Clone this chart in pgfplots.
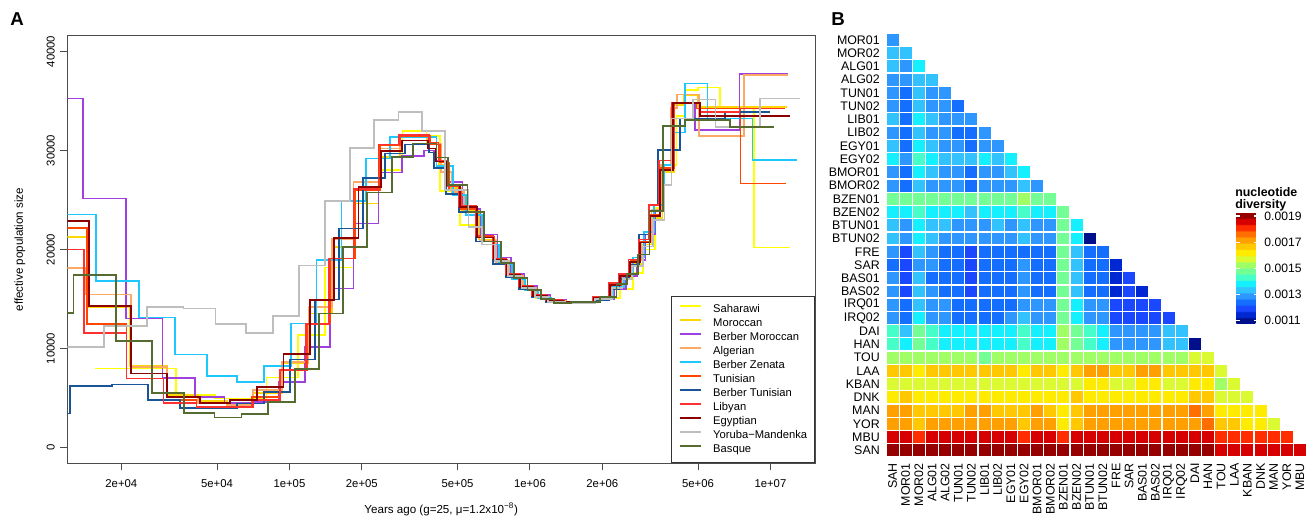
\documentclass[border=0pt]{standalone}
\usepackage{fontspec}
\setmainfont{Liberation Sans}
\usepackage{pgfplots}
\pgfplotsset{compat=1.18}
\usetikzlibrary{calc}

\definecolor{cSAH}{RGB}{255,255,0}
\definecolor{cMOR}{RGB}{255,215,0}
\definecolor{cBMOR}{RGB}{160,64,224}
\definecolor{cALG}{RGB}{250,170,100}
\definecolor{cBZEN}{RGB}{30,200,255}
\definecolor{cTUN}{RGB}{255,69,0}
\definecolor{cBTUN}{RGB}{25,85,150}
\definecolor{cLIB}{RGB}{255,48,48}
\definecolor{cEGY}{RGB}{139,0,0}
\definecolor{cYOR}{RGB}{190,190,190}
\definecolor{cBAS}{RGB}{85,107,47}

% 18 colour steps, each repeated so the map is nearly piecewise constant
\pgfplotsset{colormap={stepjet}{
rgb255=(0,16,140) rgb255=(0,16,140) rgb255=(0,16,140) rgb255=(0,16,140) rgb255=(0,16,140)
rgb255=(0,40,210) rgb255=(0,40,210) rgb255=(0,40,210) rgb255=(0,40,210) rgb255=(0,40,210)
rgb255=(25,72,255) rgb255=(25,72,255) rgb255=(25,72,255) rgb255=(25,72,255) rgb255=(25,72,255)
rgb255=(20,110,255) rgb255=(20,110,255) rgb255=(20,110,255) rgb255=(20,110,255) rgb255=(20,110,255)
rgb255=(45,150,255) rgb255=(45,150,255) rgb255=(45,150,255) rgb255=(45,150,255) rgb255=(45,150,255)
rgb255=(50,195,255) rgb255=(50,195,255) rgb255=(50,195,255) rgb255=(50,195,255) rgb255=(50,195,255)
rgb255=(20,240,255) rgb255=(20,240,255) rgb255=(20,240,255) rgb255=(20,240,255) rgb255=(20,240,255)
rgb255=(70,255,200) rgb255=(70,255,200) rgb255=(70,255,200) rgb255=(70,255,200) rgb255=(70,255,200)
rgb255=(115,255,150) rgb255=(115,255,150) rgb255=(115,255,150) rgb255=(115,255,150) rgb255=(115,255,150)
rgb255=(160,255,100) rgb255=(160,255,100) rgb255=(160,255,100) rgb255=(160,255,100) rgb255=(160,255,100)
rgb255=(220,250,50) rgb255=(220,250,50) rgb255=(220,250,50) rgb255=(220,250,50) rgb255=(220,250,50)
rgb255=(255,235,0) rgb255=(255,235,0) rgb255=(255,235,0) rgb255=(255,235,0) rgb255=(255,235,0)
rgb255=(255,200,0) rgb255=(255,200,0) rgb255=(255,200,0) rgb255=(255,200,0) rgb255=(255,200,0)
rgb255=(255,160,0) rgb255=(255,160,0) rgb255=(255,160,0) rgb255=(255,160,0) rgb255=(255,160,0)
rgb255=(255,110,0) rgb255=(255,110,0) rgb255=(255,110,0) rgb255=(255,110,0) rgb255=(255,110,0)
rgb255=(255,45,0) rgb255=(255,45,0) rgb255=(255,45,0) rgb255=(255,45,0) rgb255=(255,45,0)
rgb255=(215,0,0) rgb255=(215,0,0) rgb255=(215,0,0) rgb255=(215,0,0) rgb255=(215,0,0)
rgb255=(150,0,0) rgb255=(150,0,0) rgb255=(150,0,0) rgb255=(150,0,0) rgb255=(150,0,0)
}}

% pairwise nucleotide diversity (x 1e-4): column, row, value
\pgfplotstableread[row sep=\\]{
c r v\\
0 1 12.9\\
0 2 13.4\\ 1 2 13.4\\
0 3 13.4\\ 1 3 12.9\\ 2 3 13.8\\
0 4 12.9\\ 1 4 12.9\\ 2 4 13.4\\ 3 4 13.4\\
0 5 12.9\\ 1 5 12.4\\ 2 5 13.4\\ 3 5 12.9\\ 4 5 12.9\\
0 6 12.9\\ 1 6 12.4\\ 2 6 13.4\\ 3 6 12.9\\ 4 6 12.9\\ 5 6 12.4\\
0 7 13.4\\ 1 7 12.4\\ 2 7 13.8\\ 3 7 13.4\\ 4 7 12.9\\ 5 7 12.9\\ 6 7 12.9\\
0 8 12.9\\ 1 8 12.4\\ 2 8 13.4\\ 3 8 12.9\\ 4 8 12.9\\ 5 8 12.4\\ 6 8 12.4\\ 7 8 12.9\\
0 9 13.4\\ 1 9 12.4\\ 2 9 13.8\\ 3 9 13.4\\ 4 9 12.9\\ 5 9 12.9\\ 6 9 12.4\\ 7 9 12.9\\ 8 9 12.9\\
0 10 13.8\\ 1 10 12.9\\ 2 10 14.3\\ 3 10 13.8\\ 4 10 13.4\\ 5 10 13.4\\ 6 10 13.4\\ 7 10 13.8\\ 8 10 13.4\\ 9 10 13.8\\
0 11 12.9\\ 1 11 12.4\\ 2 11 13.8\\ 3 11 13.4\\ 4 11 12.9\\ 5 11 12.9\\ 6 11 12.4\\ 7 11 12.9\\ 8 11 12.9\\ 9 11 13.4\\ 10 11 13.8\\
0 12 12.9\\ 1 12 12.4\\ 2 12 13.4\\ 3 12 12.9\\ 4 12 12.9\\ 5 12 12.9\\ 6 12 12.4\\ 7 12 12.9\\ 8 12 12.9\\ 9 12 12.9\\ 10 12 13.4\\ 11 12 12.9\\
0 13 14.8\\ 1 13 14.8\\ 2 13 14.8\\ 3 13 14.8\\ 4 13 14.8\\ 5 13 14.8\\ 6 13 14.8\\ 7 13 14.8\\ 8 13 14.8\\ 9 13 14.8\\ 10 13 15.3\\ 11 13 14.8\\ 12 13 14.8\\
0 14 13.8\\ 1 14 13.8\\ 2 14 14.3\\ 3 14 13.8\\ 4 14 13.8\\ 5 14 13.8\\ 6 14 13.4\\ 7 14 13.8\\ 8 14 13.8\\ 9 14 13.8\\ 10 14 14.3\\ 11 14 13.8\\ 12 14 13.8\\ 13 14 14.8\\
0 15 13.4\\ 1 15 12.9\\ 2 15 13.8\\ 3 15 13.4\\ 4 15 13.4\\ 5 15 12.9\\ 6 15 12.9\\ 7 15 12.9\\ 8 15 13.4\\ 9 15 12.9\\ 10 15 13.4\\ 11 15 12.9\\ 12 15 12.9\\ 13 15 14.8\\ 14 15 13.8\\
0 16 13.4\\ 1 16 12.9\\ 2 16 13.8\\ 3 16 13.4\\ 4 16 12.9\\ 5 16 12.9\\ 6 16 12.9\\ 7 16 12.9\\ 8 16 12.9\\ 9 16 12.9\\ 10 16 13.4\\ 11 16 12.9\\ 12 16 12.9\\ 13 16 14.8\\ 14 16 13.8\\ 15 16 11.0\\
0 17 12.9\\ 1 17 11.9\\ 2 17 13.4\\ 3 17 12.9\\ 4 17 12.4\\ 5 17 12.4\\ 6 17 11.9\\ 7 17 12.4\\ 8 17 12.4\\ 9 17 12.4\\ 10 17 12.4\\ 11 17 12.4\\ 12 17 12.4\\ 13 17 14.8\\ 14 17 13.4\\ 15 17 12.4\\ 16 17 12.4\\
0 18 12.4\\ 1 18 11.9\\ 2 18 12.9\\ 3 18 12.9\\ 4 18 12.4\\ 5 18 12.4\\ 6 18 11.9\\ 7 18 12.4\\ 8 18 12.4\\ 9 18 12.4\\ 10 18 12.9\\ 11 18 12.4\\ 12 18 12.4\\ 13 18 14.8\\ 14 18 13.4\\ 15 18 12.4\\ 16 18 12.4\\ 17 18 11.5\\
0 19 12.9\\ 1 19 11.9\\ 2 19 13.4\\ 3 19 12.4\\ 4 19 12.4\\ 5 19 12.4\\ 6 19 11.9\\ 7 19 12.4\\ 8 19 12.4\\ 9 19 12.4\\ 10 19 12.9\\ 11 19 12.4\\ 12 19 12.4\\ 13 19 14.8\\ 14 19 13.4\\ 15 19 12.4\\ 16 19 12.4\\ 17 19 11.5\\ 18 19 11.9\\
0 20 12.9\\ 1 20 11.9\\ 2 20 13.4\\ 3 20 12.9\\ 4 20 12.4\\ 5 20 12.4\\ 6 20 11.9\\ 7 20 12.4\\ 8 20 12.4\\ 9 20 12.4\\ 10 20 12.9\\ 11 20 12.4\\ 12 20 12.4\\ 13 20 14.8\\ 14 20 13.4\\ 15 20 12.4\\ 16 20 12.4\\ 17 20 11.5\\ 18 20 11.9\\ 19 20 11.5\\
0 21 12.9\\ 1 21 12.4\\ 2 21 13.4\\ 3 21 12.9\\ 4 21 12.9\\ 5 21 12.4\\ 6 21 12.4\\ 7 21 12.4\\ 8 21 12.4\\ 9 21 12.4\\ 10 21 12.9\\ 11 21 12.9\\ 12 21 12.9\\ 13 21 14.8\\ 14 21 13.8\\ 15 21 12.9\\ 16 21 12.9\\ 17 21 11.9\\ 18 21 11.9\\ 19 21 11.9\\ 20 21 11.9\\
0 22 12.9\\ 1 22 12.4\\ 2 22 13.8\\ 3 22 12.9\\ 4 22 12.9\\ 5 22 12.4\\ 6 22 12.4\\ 7 22 12.4\\ 8 22 12.4\\ 9 22 12.9\\ 10 22 13.4\\ 11 22 12.9\\ 12 22 12.9\\ 13 22 14.8\\ 14 22 13.8\\ 15 22 12.9\\ 16 22 12.9\\ 17 22 11.9\\ 18 22 11.9\\ 19 22 11.9\\ 20 22 11.9\\ 21 22 11.9\\
0 23 14.3\\ 1 23 13.4\\ 2 23 14.8\\ 3 23 14.3\\ 4 23 13.8\\ 5 23 13.8\\ 6 23 13.8\\ 7 23 13.8\\ 8 23 13.8\\ 9 23 13.8\\ 10 23 14.3\\ 11 23 13.8\\ 12 23 13.8\\ 13 23 15.3\\ 14 23 14.8\\ 15 23 14.3\\ 16 23 13.8\\ 17 23 12.9\\ 18 23 12.9\\ 19 23 12.9\\ 20 23 12.9\\ 21 23 13.4\\ 22 23 13.4\\
0 24 14.3\\ 1 24 13.8\\ 2 24 14.8\\ 3 24 14.3\\ 4 24 13.8\\ 5 24 13.8\\ 6 24 13.8\\ 7 24 13.8\\ 8 24 13.8\\ 9 24 13.8\\ 10 24 14.3\\ 11 24 13.8\\ 12 24 13.8\\ 13 24 15.3\\ 14 24 14.8\\ 15 24 14.3\\ 16 24 13.8\\ 17 24 12.9\\ 18 24 12.9\\ 19 24 12.9\\ 20 24 12.9\\ 21 24 13.4\\ 22 24 13.4\\ 23 24 11.0\\
0 25 15.3\\ 1 25 15.3\\ 2 25 15.3\\ 3 25 15.3\\ 4 25 15.3\\ 5 25 15.3\\ 6 25 15.3\\ 7 25 14.8\\ 8 25 15.3\\ 9 25 15.3\\ 10 25 15.3\\ 11 25 15.3\\ 12 25 15.3\\ 13 25 15.3\\ 14 25 15.3\\ 15 25 15.3\\ 16 25 15.3\\ 17 25 15.3\\ 18 25 15.3\\ 19 25 15.3\\ 20 25 15.3\\ 21 25 15.3\\ 22 25 15.3\\ 23 25 15.7\\ 24 25 15.7\\
0 26 16.7\\ 1 26 16.7\\ 2 26 16.2\\ 3 26 16.7\\ 4 26 16.7\\ 5 26 16.7\\ 6 26 16.7\\ 7 26 16.7\\ 8 26 16.7\\ 9 26 16.7\\ 10 26 16.2\\ 11 26 16.7\\ 12 26 16.7\\ 13 26 16.2\\ 14 26 16.7\\ 15 26 17.2\\ 16 26 17.2\\ 17 26 16.7\\ 18 26 16.7\\ 19 26 17.2\\ 20 26 17.2\\ 21 26 16.7\\ 22 26 16.7\\ 23 26 16.7\\ 24 26 16.7\\ 25 26 15.7\\
0 27 15.7\\ 1 27 15.7\\ 2 27 15.7\\ 3 27 15.7\\ 4 27 15.7\\ 5 27 15.7\\ 6 27 15.7\\ 7 27 15.7\\ 8 27 15.7\\ 9 27 15.7\\ 10 27 15.7\\ 11 27 15.7\\ 12 27 15.7\\ 13 27 15.7\\ 14 27 15.7\\ 15 27 16.2\\ 16 27 16.2\\ 17 27 15.7\\ 18 27 15.7\\ 19 27 16.2\\ 20 27 16.2\\ 21 27 15.7\\ 22 27 15.7\\ 23 27 16.2\\ 24 27 16.2\\ 25 27 15.3\\ 26 27 15.7\\
0 28 16.2\\ 1 28 16.7\\ 2 28 16.2\\ 3 28 16.2\\ 4 28 16.2\\ 5 28 16.2\\ 6 28 16.2\\ 7 28 16.2\\ 8 28 16.2\\ 9 28 16.2\\ 10 28 16.2\\ 11 28 16.2\\ 12 28 16.2\\ 13 28 16.2\\ 14 28 16.7\\ 15 28 16.2\\ 16 28 16.2\\ 17 28 16.2\\ 18 28 16.2\\ 19 28 16.2\\ 20 28 16.2\\ 21 28 16.2\\ 22 28 16.2\\ 23 28 16.7\\ 24 28 16.7\\ 25 28 15.7\\ 26 28 15.7\\ 27 28 15.7\\
0 29 17.2\\ 1 29 17.2\\ 2 29 16.7\\ 3 29 16.7\\ 4 29 16.7\\ 5 29 16.7\\ 6 29 17.2\\ 7 29 17.2\\ 8 29 16.7\\ 9 29 16.7\\ 10 29 16.7\\ 11 29 17.2\\ 12 29 16.7\\ 13 29 16.2\\ 14 29 16.7\\ 15 29 17.2\\ 16 29 17.2\\ 17 29 17.2\\ 18 29 17.2\\ 19 29 17.2\\ 20 29 17.2\\ 21 29 17.2\\ 22 29 17.2\\ 23 29 17.6\\ 24 29 17.2\\ 25 29 16.2\\ 26 29 16.2\\ 27 29 16.2\\ 28 29 16.2\\
0 30 17.2\\ 1 30 17.2\\ 2 30 16.7\\ 3 30 17.2\\ 4 30 17.2\\ 5 30 17.2\\ 6 30 17.2\\ 7 30 17.2\\ 8 30 17.2\\ 9 30 17.2\\ 10 30 16.7\\ 11 30 17.2\\ 12 30 17.2\\ 13 30 16.2\\ 14 30 16.7\\ 15 30 17.2\\ 16 30 17.2\\ 17 30 17.2\\ 18 30 17.2\\ 19 30 17.2\\ 20 30 17.2\\ 21 30 17.2\\ 22 30 17.2\\ 23 30 17.2\\ 24 30 17.6\\ 25 30 16.7\\ 26 30 16.7\\ 27 30 16.2\\ 28 30 16.2\\ 29 30 15.7\\
0 31 18.6\\ 1 31 18.6\\ 2 31 18.1\\ 3 31 18.6\\ 4 31 18.6\\ 5 31 18.6\\ 6 31 18.6\\ 7 31 18.6\\ 8 31 18.6\\ 9 31 18.6\\ 10 31 18.1\\ 11 31 18.6\\ 12 31 18.6\\ 13 31 18.1\\ 14 31 18.6\\ 15 31 18.6\\ 16 31 18.6\\ 17 31 18.6\\ 18 31 18.6\\ 19 31 18.6\\ 20 31 18.6\\ 21 31 18.6\\ 22 31 18.6\\ 23 31 18.6\\ 24 31 18.6\\ 25 31 18.1\\ 26 31 18.1\\ 27 31 18.1\\ 28 31 18.1\\ 29 31 18.1\\ 30 31 18.1\\
0 32 19.1\\ 1 32 19.1\\ 2 32 19.1\\ 3 32 19.1\\ 4 32 19.1\\ 5 32 19.1\\ 6 32 19.1\\ 7 32 19.1\\ 8 32 19.1\\ 9 32 19.1\\ 10 32 19.1\\ 11 32 19.1\\ 12 32 19.1\\ 13 32 19.1\\ 14 32 19.1\\ 15 32 19.1\\ 16 32 19.1\\ 17 32 19.1\\ 18 32 19.1\\ 19 32 19.1\\ 20 32 19.1\\ 21 32 19.1\\ 22 32 19.1\\ 23 32 19.1\\ 24 32 19.1\\ 25 32 18.6\\ 26 32 18.6\\ 27 32 18.6\\ 28 32 18.6\\ 29 32 18.6\\ 30 32 18.6\\ 31 32 18.6\\
}\diversity

\begin{document}
\begin{tikzpicture}
% ---------------- panel A: PSMC curves (x = log10 years) ----------------
\begin{axis}[
  at={(50.5pt,41.8pt)}, anchor=south west,
  scale only axis, width=560.75pt, height=320.7pt,
  xmin=4.0765, xmax=7.1854, ymin=-1600, ymax=41600,
  scaled ticks=false,
  axis line style={draw=black!70, line width=0.75pt},
  xtick={4.30103,4.69897,5,5.30103,5.69897,6,6.30103,6.69897,7},
  xticklabels={2e+04,5e+04,1e+05,2e+05,5e+05,1e+06,2e+06,5e+06,1e+07},
  ytick={0,10000,20000,30000,40000},
  yticklabels={0,10000,20000,30000,40000},
  xtick pos=lower, ytick pos=left,
  tick align=outside, major tick length=5.25pt,
  tick style={draw=black!70, line width=0.75pt},
  tick label style={font=\fontsize{8.5}{10}\selectfont},
  yticklabel style={rotate=90, anchor=south, inner sep=0pt},
  xticklabel style={anchor=north, inner sep=0pt},
  yticklabel shift=4pt, xticklabel shift=7pt,
  const plot,
  every axis plot/.append style={line width=1.3pt},
  legend style={at={(1,0)}, anchor=south east, draw=black!80, line width=0.75pt,
    fill=white, font=\fontsize{8.4}{10}\selectfont, inner xsep=5.5pt, inner ysep=5.5pt,
    row sep=2pt, column sep=8.25pt,
    nodes={inner sep=0pt, text height=6.6pt, text depth=1.9pt}},
  legend cell align=left,
  legend image code/.code={\draw[#1, line width=1.3pt] (0pt,2.7pt) -- (16.2pt,2.7pt);},
]
\addplot[cSAH] coordinates {(4.192,7980) (4.528,5280) (4.690,4950) (4.905,7070) (5.037,11350) (5.148,18180) (5.266,24640) (5.370,28000) (5.470,31950) (5.570,31500) (5.627,25900) (5.710,22500) (5.790,20800) (5.858,18700) (5.913,17200) (5.969,16000) (6.024,15100) (6.080,14700) (6.150,14700) (6.290,15100) (6.375,16000) (6.430,17600) (6.470,20000) (6.520,24200) (6.560,28500) (6.610,33500) (6.645,36090) (6.700,36360) (6.790,34400) (6.933,20200) (7.081,20200)};
\addlegendentry{Saharawi}
\addplot[cMOR] coordinates {(4.00,21280) (4.164,14200) (4.337,8210) (4.490,5280) (4.621,4710) (4.739,4440) (4.850,5520) (4.968,8480) (5.079,13530) (5.176,20270) (5.266,24640) (5.370,29360) (5.460,31400) (5.570,30600) (5.620,28500) (5.664,26200) (5.719,24000) (5.789,21000) (5.858,18800) (5.913,17200) (5.969,16000) (6.024,15200) (6.080,14800) (6.149,14700) (6.270,15000) (6.340,16200) (6.385,17200) (6.426,18500) (6.468,20500) (6.509,23200) (6.551,27800) (6.600,34600) (6.640,35580) (6.700,34400) (7.070,34400)};
\addlegendentry{Moroccan}
\addplot[cBMOR] coordinates {(4.00,35250) (4.143,25150) (4.320,13030) (4.472,7040) (4.607,5110) (4.730,4500) (4.850,4600) (4.954,6630) (5.065,10160) (5.169,16060) (5.266,22630) (5.370,27770) (5.467,29420) (5.560,30000) (5.600,29000) (5.650,26800) (5.720,24100) (5.795,21500) (5.865,19200) (5.920,17500) (5.975,16300) (6.030,15400) (6.085,14900) (6.150,14700) (6.280,15000) (6.350,16000) (6.400,17300) (6.445,18900) (6.480,21500) (6.520,24000) (6.560,28000) (6.594,34760) (6.686,32050) (6.871,37700) (7.075,37700)};
\addlegendentry{Berber Moroccan}
\addplot[cALG] coordinates {(4.00,18150) (4.154,15450) (4.341,8140) (4.490,5110) (4.621,4510) (4.739,4300) (4.850,5790) (4.968,8650) (5.079,14200) (5.176,21060) (5.266,26810) (5.370,30190) (5.460,31500) (5.575,30700) (5.630,27800) (5.675,25800) (5.725,23800) (5.790,20900) (5.860,18700) (5.915,17300) (5.970,16100) (6.025,15200) (6.080,14800) (6.150,14700) (6.270,15050) (6.340,16300) (6.385,17500) (6.420,18900) (6.462,20800) (6.505,24000) (6.545,28500) (6.585,34300) (6.613,35650) (6.704,31440) (6.890,37600) (7.075,37600)};
\addlegendentry{Algerian}
\addplot[cBZEN] coordinates {(4.00,23530) (4.196,16830) (4.375,13130) (4.524,9390) (4.656,7240) (4.781,6630) (4.894,8210) (5.007,12520) (5.113,18920) (5.217,24910) (5.318,29190) (5.418,31380) (5.612,28400) (5.680,25500) (5.735,23500) (5.800,20500) (5.870,18500) (5.925,17000) (5.980,15900) (6.035,15100) (6.090,14700) (6.160,14700) (6.280,15100) (6.345,16200) (6.390,17400) (6.430,19200) (6.475,21800) (6.515,24500) (6.560,28500) (6.596,31820) (6.645,36760) (6.738,33230) (6.925,29020) (7.109,29020)};
\addlegendentry{Berber Zenata}
\addplot[cTUN] coordinates {(4.00,22190) (4.157,12460) (4.323,6970) (4.476,4780) (4.614,4110) (4.843,5110) (4.961,7860) (5.072,12520) (5.169,19090) (5.273,25990) (5.377,30530) (5.460,31500) (5.585,30600) (5.625,28800) (5.665,26000) (5.712,24100) (5.782,21300) (5.850,19000) (5.906,17400) (5.962,16200) (6.017,15300) (6.073,14800) (6.142,14700) (6.266,15100) (6.336,16400) (6.378,17300) (6.418,18800) (6.460,20800) (6.500,23500) (6.543,28200) (6.600,34760) (6.693,34240) (6.876,26660) (7.063,26660)};
\addlegendentry{Tunisian}
\addplot[cBTUN] coordinates {(4.00,3430) (4.088,6190) (4.261,6360) (4.413,4780) (4.545,4000) (4.781,4440) (4.894,5620) (5.002,8890) (5.106,14950) (5.207,22120) (5.307,27220) (5.397,29690) (5.480,30600) (5.580,29800) (5.600,28200) (5.650,25600) (5.705,23800) (5.775,20800) (5.845,18500) (5.900,17200) (5.955,16000) (6.010,15200) (6.066,14700) (6.135,14600) (6.260,14900) (6.330,16000) (6.372,17000) (6.412,18400) (6.455,21500) (6.497,24500) (6.534,30050) (6.624,33230) (6.811,33900) (6.998,33900)};
\addlegendentry{Berber Tunisian}
\addplot[cLIB] coordinates {(4.00,20000) (4.146,11580) (4.323,6970) (4.476,4510) (4.614,4110) (4.850,4780) (4.961,7800) (5.069,12460) (5.166,19090) (5.266,26100) (5.370,30600) (5.455,31600) (5.580,30800) (5.620,29000) (5.660,26400) (5.705,24400) (5.775,21400) (5.845,19100) (5.900,17500) (5.955,16300) (6.010,15400) (6.066,14900) (6.135,14700) (6.260,15200) (6.330,16600) (6.370,17500) (6.410,19000) (6.452,21000) (6.495,24500) (6.538,29000) (6.590,34800) (6.707,33900) (6.871,34240) (7.061,34240)};
\addlegendentry{Libyan}
\addplot[cEGY] coordinates {(4.00,22860) (4.167,14270) (4.341,7470) (4.492,5110) (4.628,4510) (4.753,4780) (4.864,6120) (4.975,9420) (5.086,14880) (5.185,21130) (5.287,26300) (5.380,29930) (5.467,31000) (5.576,30200) (5.610,28900) (5.654,26500) (5.709,24300) (5.779,21200) (5.848,19000) (5.903,17400) (5.959,16200) (6.014,15300) (6.070,14800) (6.139,14700) (6.264,15100) (6.333,16400) (6.375,17300) (6.416,18700) (6.458,20700) (6.499,23400) (6.541,28000) (6.596,34800) (6.707,33460) (7.081,33460)};
\addlegendentry{Egyptian}
\addplot[cYOR] coordinates {(4.00,10160) (4.230,12290) (4.409,14200) (4.559,14030) (4.693,12460) (4.818,11580) (4.933,13260) (5.041,18380) (5.149,24910) (5.252,30260) (5.353,33060) (5.453,33900) (5.550,31950) (5.647,26000) (5.745,22300) (5.800,20500) (5.855,18800) (5.910,17300) (5.965,16100) (6.020,15200) (6.075,14700) (6.145,14600) (6.270,15000) (6.340,16100) (6.385,17000) (6.425,18300) (6.470,20300) (6.512,23000) (6.560,26500) (6.589,33230) (6.679,35150) (6.772,32380) (6.957,35250) (7.123,35250)};
\addlegendentry{Yoruba−Mandenka}
\addplot[cBAS] coordinates {(4.00,13600) (4.102,17400) (4.279,10740) (4.430,5520) (4.563,3500) (4.688,3030) (4.801,3370) (4.912,4610) (5.023,7900) (5.124,13530) (5.224,20270) (5.324,25750) (5.425,29360) (5.515,30700) (5.612,29300) (5.660,26500) (5.740,23800) (5.810,20800) (5.880,18600) (5.935,17100) (5.990,15900) (6.045,15000) (6.100,14600) (6.170,14700) (6.290,15200) (6.360,16500) (6.405,17500) (6.450,19500) (6.497,23900) (6.552,32480) (6.645,33060) (6.832,32380) (7.015,32380)};
\addlegendentry{Basque}
\end{axis}

% ---------------- panel B: diversity heatmap ----------------
\begin{axis}[
  at={(664.5pt,46.5pt)}, anchor=south west,
  scale only axis, width=315.4pt, height=317.8pt,
  xmin=-0.5, xmax=31.5, ymin=0.5, ymax=32.5, y dir=reverse,
  axis line style={draw=none}, major tick length=0pt, tick style={draw=none},
  xtick={0,...,31}, ytick={1,...,32},
  xticklabels={SAH,MOR01,MOR02,ALG01,ALG02,TUN01,TUN02,LIB01,LIB02,EGY01,EGY02,BMOR01,BMOR02,BZEN01,BZEN02,BTUN01,BTUN02,FRE,SAR,BAS01,BAS02,IRQ01,IRQ02,DAI,HAN,TOU,LAA,KBAN,DNK,MAN,YOR,MBU},
  yticklabels={MOR01,MOR02,ALG01,ALG02,TUN01,TUN02,LIB01,LIB02,EGY01,EGY02,BMOR01,BMOR02,BZEN01,BZEN02,BTUN01,BTUN02,FRE,SAR,BAS01,BAS02,IRQ01,IRQ02,DAI,HAN,TOU,LAA,KBAN,DNK,MAN,YOR,MBU,SAN},
  tick label style={font=\fontsize{9.3}{10}\selectfont, inner sep=0pt},
  xticklabel style={rotate=90, anchor=east},
  yticklabel style={anchor=east},
  xticklabel shift=4.5pt, yticklabel shift=4.5pt,
  colormap name=stepjet,
  point meta min=10.8, point meta max=19.25,
  colorbar,
  colorbar style={
    at={($(parent axis.south west)+(254.25pt,100.3pt)$)}, anchor=south west,
    scale only axis, width=16.3pt, height=82.9pt, y dir=normal,
    axis line style={draw=none},
    ytick={11,13,15,17,19},
    yticklabels={0.0011,0.0013,0.0015,0.0017,0.0019},
    ytick pos=both, yticklabel pos=right,
    tick align=inside, major tick length=3pt,
    ytick style={draw=white, line width=0.8pt},
    yticklabel style={font=\fontsize{9.1}{10}\selectfont, inner sep=0pt, anchor=west, rotate=0},
    yticklabel shift=4.5pt,
  },
]
\addplot[scatter, only marks, mark=square*, mark size=4.93pt,
  scatter/use mapped color={draw=white, fill=mapped color},
  mark options={line width=0.9pt}, point meta=explicit]
  table[x=c, y=r, meta=v] {\diversity};
\end{axis}

\node[font=\bfseries\fontsize{14}{14}\selectfont] at (12.75pt,375pt) {A};
\node[font=\bfseries\fontsize{14}{14}\selectfont] at (628.5pt,375pt) {B};
\node[rotate=90, font=\fontsize{8.7}{10}\selectfont] at (15pt,202.1pt) {effective population size};
\node[font=\fontsize{8.7}{10}\selectfont] at (330.9pt,7.5pt) {Years ago (g=25, μ=1.2x10\textsuperscript{−8})};
\node[anchor=base west, inner sep=0pt, font=\bfseries\fontsize{9.3}{10}\selectfont] at (926.25pt,241.7pt) {nucleotide};
\node[anchor=base west, inner sep=0pt, font=\bfseries\fontsize{9.3}{10}\selectfont] at (926.25pt,233.2pt) {diversity};

\pgfresetboundingbox
\useasboundingbox (0,0) rectangle (981.75pt,389.25pt);
\end{tikzpicture}
\end{document}
